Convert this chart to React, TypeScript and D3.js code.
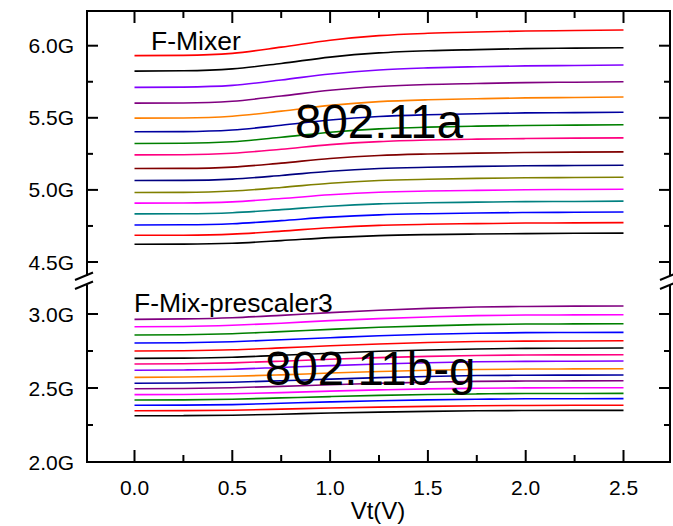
import React from "react";
import * as d3 from "d3";

// Tuning voltage samples (V)
const VT = [0, 0.25, 0.5, 0.75, 1.0, 1.25, 1.5, 1.75, 2.0, 2.25, 2.5];

// Upper group: F-Mixer (802.11a), GHz, top to bottom
const UPPER_COLORS = ["#ff0000", "#000000", "#8000ff", "#800080", "#ff8000", "#0000a0", "#008000", "#ff0080", "#800000", "#000080", "#808000", "#ff00ff", "#008080", "#0000ff", "#ff0000", "#000000"];
const UPPER_SERIES: number[][] = [
  [5.931, 5.933, 5.947, 5.990, 6.038, 6.070, 6.086, 6.095, 6.102, 6.105, 6.109],
  [5.824, 5.826, 5.839, 5.877, 5.921, 5.950, 5.965, 5.973, 5.980, 5.983, 5.986],
  [5.711, 5.713, 5.725, 5.762, 5.804, 5.832, 5.846, 5.854, 5.860, 5.863, 5.866],
  [5.602, 5.603, 5.615, 5.651, 5.691, 5.717, 5.731, 5.738, 5.744, 5.747, 5.750],
  [5.498, 5.499, 5.511, 5.546, 5.586, 5.612, 5.625, 5.632, 5.638, 5.641, 5.644],
  [5.403, 5.404, 5.415, 5.448, 5.485, 5.509, 5.521, 5.528, 5.534, 5.536, 5.539],
  [5.322, 5.323, 5.334, 5.365, 5.400, 5.423, 5.435, 5.442, 5.447, 5.449, 5.452],
  [5.243, 5.244, 5.254, 5.282, 5.314, 5.335, 5.346, 5.352, 5.356, 5.359, 5.361],
  [5.148, 5.149, 5.158, 5.186, 5.218, 5.239, 5.249, 5.255, 5.259, 5.262, 5.264],
  [5.065, 5.066, 5.075, 5.100, 5.129, 5.148, 5.157, 5.163, 5.167, 5.169, 5.171],
  [4.982, 4.983, 4.992, 5.017, 5.046, 5.065, 5.074, 5.080, 5.084, 5.086, 5.088],
  [4.908, 4.909, 4.917, 4.940, 4.966, 4.984, 4.992, 4.997, 5.001, 5.003, 5.005],
  [4.834, 4.835, 4.842, 4.863, 4.887, 4.903, 4.911, 4.915, 4.919, 4.920, 4.922],
  [4.757, 4.758, 4.765, 4.787, 4.811, 4.827, 4.835, 4.840, 4.843, 4.845, 4.847],
  [4.685, 4.686, 4.693, 4.714, 4.738, 4.754, 4.762, 4.766, 4.770, 4.771, 4.773],
  [4.623, 4.624, 4.630, 4.648, 4.669, 4.683, 4.690, 4.694, 4.697, 4.699, 4.700],
];

// Lower group: F-Mix-prescaler3 (802.11b-g), GHz, top to bottom
const LOWER_COLORS = ["#800080", "#ff00ff", "#008000", "#0000ff", "#ff0000", "#000000", "#ff0080", "#8000ff", "#ff8000", "#0000a0", "#800080", "#ff00ff", "#008000", "#0000ff", "#ff0000", "#000000"];
const LOWER_SERIES: number[][] = [
  [2.964, 2.967, 2.975, 2.991, 3.009, 3.025, 3.038, 3.047, 3.051, 3.053, 3.054],
  [2.914, 2.916, 2.924, 2.938, 2.955, 2.969, 2.980, 2.989, 2.993, 2.994, 2.995],
  [2.858, 2.860, 2.867, 2.881, 2.896, 2.910, 2.920, 2.928, 2.932, 2.933, 2.934],
  [2.804, 2.806, 2.813, 2.826, 2.840, 2.853, 2.863, 2.870, 2.874, 2.875, 2.876],
  [2.750, 2.752, 2.758, 2.771, 2.785, 2.797, 2.807, 2.814, 2.817, 2.818, 2.819],
  [2.700, 2.702, 2.708, 2.721, 2.735, 2.748, 2.757, 2.764, 2.768, 2.769, 2.770],
  [2.662, 2.664, 2.670, 2.681, 2.694, 2.705, 2.714, 2.720, 2.723, 2.724, 2.725],
  [2.620, 2.622, 2.627, 2.639, 2.651, 2.662, 2.671, 2.677, 2.680, 2.681, 2.682],
  [2.572, 2.574, 2.579, 2.589, 2.601, 2.611, 2.620, 2.625, 2.628, 2.629, 2.630],
  [2.532, 2.534, 2.539, 2.549, 2.560, 2.570, 2.578, 2.584, 2.586, 2.587, 2.588],
  [2.495, 2.497, 2.502, 2.511, 2.522, 2.532, 2.539, 2.545, 2.547, 2.548, 2.549],
  [2.455, 2.456, 2.461, 2.469, 2.479, 2.487, 2.494, 2.498, 2.501, 2.502, 2.502],
  [2.419, 2.420, 2.424, 2.433, 2.442, 2.450, 2.456, 2.460, 2.463, 2.463, 2.464],
  [2.383, 2.384, 2.388, 2.397, 2.406, 2.414, 2.420, 2.424, 2.427, 2.427, 2.428],
  [2.346, 2.347, 2.350, 2.357, 2.365, 2.371, 2.376, 2.380, 2.382, 2.383, 2.383],
  [2.312, 2.313, 2.316, 2.323, 2.331, 2.337, 2.342, 2.346, 2.348, 2.349, 2.349],
];

// Axis ticks
const X_MAJOR = [0, 0.5, 1.0, 1.5, 2.0, 2.5];
const X_MINOR = [0.25, 0.75, 1.25, 1.75, 2.25];
const X_LABELS = ["0.0", "0.5", "1.0", "1.5", "2.0", "2.5"];
const UP_MAJOR = [4.5, 5.0, 5.5, 6.0];
const UP_MINOR = [4.75, 5.25, 5.75];
const UP_LABELS = ["4.5G", "5.0G", "5.5G", "6.0G"];
const LO_MAJOR = [2.0, 2.5, 3.0];
const LO_MINOR = [2.25, 2.75];
const LO_LABELS = ["2.0G", "2.5G", "3.0G"];

const X_TITLE = "Vt(V)";
const UPPER_NAME = "F-Mixer";
const UPPER_STD = "802.11a";
const LOWER_NAME = "F-Mix-prescaler3";
const LOWER_STD = "802.11b-g";

const W = 673;
const H = 526;
const L = 87, R = 670, T = 11, B = 462;
const BREAK_TOP = 276, BREAK_BOT = 285;
const FONT = "'Liberation Sans', Arial, sans-serif";

export default function App() {
  const x = d3.scaleLinear().domain([0, 2.5]).range([134.5, 623.5]);
  const yU = d3.scaleLinear().domain([4.5, 6.0]).range([262, 45.7]);
  const yL = d3.scaleLinear().domain([2.0, 3.0]).range([462, 314]);

  const lineU = d3.line<number>().x((_, i) => x(VT[i])).y((d) => yU(d)).curve(d3.curveMonotoneX);
  const lineL = d3.line<number>().x((_, i) => x(VT[i])).y((d) => yL(d)).curve(d3.curveMonotoneX);

  const sw = 2;
  const majLen = 11, minLen = 6;

  const yTicks = (scale: d3.ScaleLinear<number, number>, major: number[], minor: number[], labels: string[], key: string) => (
    <g key={key}>
      {major.map((v, i) => (
        <g key={"M" + v}>
          <line x1={L} x2={L + majLen} y1={scale(v)} y2={scale(v)} stroke="#000" strokeWidth={sw} />
          <line x1={R} x2={R - majLen} y1={scale(v)} y2={scale(v)} stroke="#000" strokeWidth={sw} />
          <text x={74} y={scale(v)} dy="0.36em" textAnchor="end" fontSize={21} fontFamily={FONT}>{labels[i]}</text>
        </g>
      ))}
      {minor.map((v) => (
        <g key={"m" + v}>
          <line x1={L} x2={L + minLen} y1={scale(v)} y2={scale(v)} stroke="#000" strokeWidth={sw} />
          <line x1={R} x2={R - minLen} y1={scale(v)} y2={scale(v)} stroke="#000" strokeWidth={sw} />
        </g>
      ))}
    </g>
  );

  return (
    <div style={{ position: "absolute", left: 0, top: 0 }}>
      <svg width={W} height={H} style={{ display: "block", background: "#fff" }}>
        {UPPER_SERIES.map((s, i) => (
          <path key={"u" + i} d={lineU(s) || ""} fill="none" stroke={UPPER_COLORS[i]} strokeWidth={1.6} />
        ))}
        {LOWER_SERIES.map((s, i) => (
          <path key={"l" + i} d={lineL(s) || ""} fill="none" stroke={LOWER_COLORS[i]} strokeWidth={1.6} />
        ))}

        {/* frame */}
        <line x1={L - 1} x2={R + 1} y1={T} y2={T} stroke="#000" strokeWidth={sw} />
        <line x1={L - 1} x2={R + 1} y1={B} y2={B} stroke="#000" strokeWidth={sw} />
        <line x1={L} x2={L} y1={T} y2={BREAK_TOP} stroke="#000" strokeWidth={sw} />
        <line x1={L} x2={L} y1={BREAK_BOT} y2={B} stroke="#000" strokeWidth={sw} />
        <line x1={R} x2={R} y1={T} y2={BREAK_TOP} stroke="#000" strokeWidth={sw} />
        <line x1={R} x2={R} y1={BREAK_BOT} y2={B} stroke="#000" strokeWidth={sw} />
        {/* break marks */}
        {[BREAK_TOP, BREAK_BOT].map((yb) => (
          <g key={"b" + yb}>
            <line x1={L - 12} y1={yb + 4} x2={L + 6} y2={yb - 3.5} stroke="#000" strokeWidth={sw} />
            <line x1={R - 10} y1={yb + 4} x2={R + 8} y2={yb - 3.5} stroke="#000" strokeWidth={sw} />
          </g>
        ))}

        {/* x ticks */}
        {X_MAJOR.map((v, i) => (
          <g key={"xM" + v}>
            <line x1={x(v)} x2={x(v)} y1={B} y2={B - 12} stroke="#000" strokeWidth={sw} />
            <line x1={x(v)} x2={x(v)} y1={T} y2={T + 12} stroke="#000" strokeWidth={sw} />
            <text x={x(v)} y={495} textAnchor="middle" fontSize={21} fontFamily={FONT}>{X_LABELS[i]}</text>
          </g>
        ))}
        {X_MINOR.map((v) => (
          <g key={"xm" + v}>
            <line x1={x(v)} x2={x(v)} y1={B} y2={B - 7} stroke="#000" strokeWidth={sw} />
            <line x1={x(v)} x2={x(v)} y1={T} y2={T + 7} stroke="#000" strokeWidth={sw} />
          </g>
        ))}

        {yTicks(yU, UP_MAJOR, UP_MINOR, UP_LABELS, "up")}
        {yTicks(yL, LO_MAJOR, LO_MINOR, LO_LABELS, "lo")}

        <text x={378} y={519} textAnchor="middle" fontSize={24} fontFamily={FONT}>{X_TITLE}</text>
        <text x={151} y={50} fontSize={26.5} fontFamily={FONT}>{UPPER_NAME}</text>
        <text x={295} y={138} fontSize={47.5} fontFamily={FONT}>{UPPER_STD}</text>
        <text x={134} y={312} fontSize={26.5} fontFamily={FONT}>{LOWER_NAME}</text>
        <text x={265} y={385} fontSize={47.5} fontFamily={FONT}>{LOWER_STD}</text>
      </svg>
    </div>
  );
}
